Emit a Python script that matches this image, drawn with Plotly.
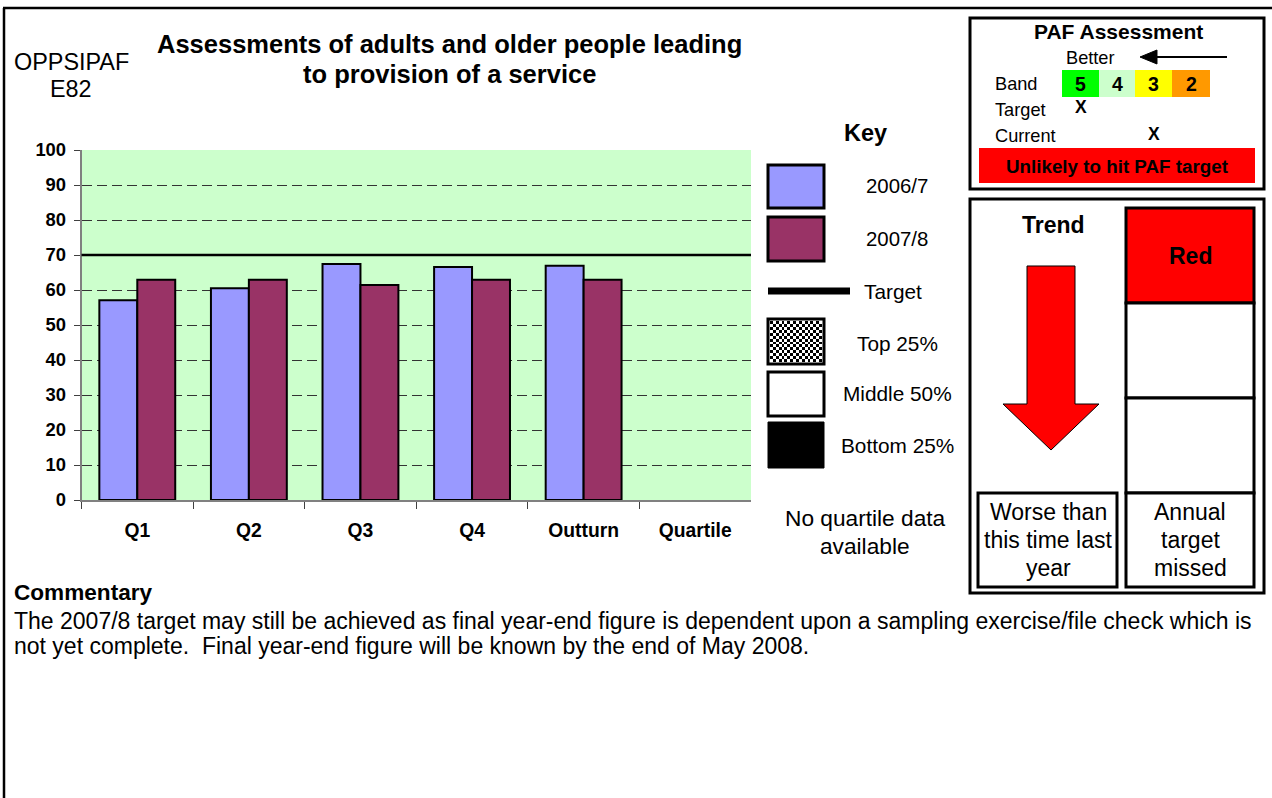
import plotly.graph_objects as go
import numpy as np

# ---------------- data ----------------
categories = ["Q1", "Q2", "Q3", "Q4", "Outturn", "Quartile"]
values_2006_7 = [57.1, 60.5, 67.4, 66.6, 66.9, None]
values_2007_8 = [62.9, 62.9, 61.4, 62.9, 62.9, None]
target_value = 70
y_tick_values = list(range(0, 101, 10))
series_names = ["2006/7", "2007/8"]
series_colors = ["#9999FF", "#993366"]
band_labels = ["5", "4", "3", "2"]
band_colors = ["#00FF00", "#CCFFCC", "#FFFF00", "#FF9900"]

W, H = 1272, 798
FONT = "Liberation Sans, Arial, sans-serif"


def px(x):
    return x / W


def py(y):
    return 1 - y / H


shapes = []
annotations = []


def rect(x0, y0, x1, y1, fill="rgba(0,0,0,0)", lw=3, lc="black", layer="above"):
    shapes.append(dict(type="rect", xref="paper", yref="paper",
                       x0=px(x0), x1=px(x1), y0=py(y1), y1=py(y0),
                       fillcolor=fill, line=dict(color=lc, width=lw), layer=layer))


def line(x0, y0, x1, y1, lw=2, lc="black"):
    shapes.append(dict(type="line", xref="paper", yref="paper",
                       x0=px(x0), x1=px(x1), y0=py(y0), y1=py(y1),
                       line=dict(color=lc, width=lw)))


def poly(points, fill, lw=1, lc="black"):
    d = "M " + " L ".join(f"{px(x):.5f},{py(y):.5f}" for x, y in points) + " Z"
    shapes.append(dict(type="path", xref="paper", yref="paper", path=d,
                       fillcolor=fill, line=dict(color=lc, width=lw)))


def text(t, x, y, size, bold=False, xanchor="center", color="black"):
    annotations.append(dict(text=t, x=px(x), y=py(y), xref="paper", yref="paper",
                            xanchor=xanchor, yanchor="middle", showarrow=False,
                            font=dict(family=FONT, size=size, color=color,
                                      weight="bold" if bold else "normal")))


fig = go.Figure()

# ---------------- main bar chart ----------------
for name, vals, col in zip(series_names, [values_2006_7, values_2007_8], series_colors):
    fig.add_trace(go.Bar(x=categories, y=vals, name=name,
                         marker=dict(color=col, line=dict(color="black", width=2)),
                         xaxis="x", yaxis="y"))

plot_x0, plot_x1 = 81.5, 751
plot_y0, plot_y1 = 150, 500

# target line
shapes.append(dict(type="line", xref="x domain", yref="y", x0=0, x1=1,
                   y0=target_value, y1=target_value,
                   line=dict(color="black", width=2.5), layer="above"))

# checker texture for "Top 25%" key swatch
nx, ny = 18, 14
checker = (np.add.outer(np.arange(ny), np.arange(nx)) % 2).astype(int)
fig.add_trace(go.Heatmap(z=checker, xaxis="x3", yaxis="y3", showscale=False,
                         colorscale=[[0, "white"], [1, "black"]], hoverinfo="skip"))

fig.update_layout(
    template="none",
    width=W, height=H, margin=dict(l=0, r=0, t=0, b=0, pad=0, autoexpand=False),
    paper_bgcolor="white", plot_bgcolor="#CCFFCC",
    showlegend=False, barmode="group", bargap=0.32, bargroupgap=0,
    font=dict(family=FONT, color="black"),
    xaxis=dict(domain=[px(plot_x0), px(plot_x1)], anchor="y", automargin=False,
               categoryorder="array", categoryarray=categories,
               showline=True, linecolor="#808080", linewidth=1.5,
               ticks="outside", tickson="boundaries", ticklen=7, tickcolor="#404040",
               tickwidth=1,
               tickfont=dict(family=FONT, size=19.3, weight="bold"),
               ticklabelstandoff=12, showgrid=False, zeroline=False, fixedrange=True),
    yaxis=dict(domain=[py(plot_y1), py(plot_y0)], anchor="x", automargin=False,
               range=[0, 100], tickvals=y_tick_values,
               showline=True, linecolor="#808080", linewidth=1.5,
               ticks="outside", ticklen=6, tickcolor="#404040", tickwidth=1,
               tickfont=dict(family=FONT, size=18.4, weight="bold"),
               ticklabelstandoff=4,
               showgrid=True, gridcolor="#333333", griddash="10px,5px", gridwidth=1,
               zeroline=False, fixedrange=True),
    xaxis3=dict(domain=[px(770), px(822)], anchor="y3", visible=False,
                automargin=False, fixedrange=True),
    yaxis3=dict(domain=[py(362), py(321)], anchor="x3", visible=False,
                automargin=False, fixedrange=True),
)

# ---------------- outer frame ----------------
line(3, 8, W, 8, lw=2.5)
line(4, 8, 4, H, lw=2.5)

# ---------------- titles ----------------
text("OPPSIPAF", 71, 62, 23.4)
text("E82", 71, 89, 23.4)
text("Assessments of adults and older people leading", 449, 44, 25.5, bold=True)
text("to provision of a service", 449, 74, 25.5, bold=True)

# ---------------- key ----------------
text("Key", 865, 133, 23.5, bold=True)
rect(768, 165, 824, 208, fill=series_colors[0])
text(series_names[0], 897, 186, 20.4)
rect(768, 217, 824, 261, fill=series_colors[1])
text(series_names[1], 897, 239, 20.4)
line(768, 291, 850, 291, lw=7)
text("Target", 893, 291, 20.8)
rect(768, 319, 824, 364, fill="rgba(0,0,0,0)")
text("Top 25%", 897, 343, 20.8)
rect(768, 372, 824, 416, fill="white")
text("Middle 50%", 897, 394, 20.8)
rect(768, 422, 824, 468, fill="black", lw=1)
text("Bottom 25%", 897, 445, 20.8)
text("No quartile data", 865, 518, 22.7)
text("available", 865, 546, 22.7)

# ---------------- PAF assessment box ----------------
rect(970, 18, 1264, 189, lw=3)
text("PAF Assessment", 1118, 31, 21, bold=True)
text("Better", 1090, 58, 18.2)
line(1227, 57, 1152, 57, lw=2)
poly([(1140, 57), (1157, 50), (1157, 64)], fill="black", lw=1)
text("Band", 993, 84, 18.2, xanchor="left")
band_x = [1062, 1099, 1135, 1172, 1210]
for i, (lab, col) in enumerate(zip(band_labels, band_colors)):
    rect(band_x[i], 70, band_x[i + 1], 97, fill=col, lw=0, lc=col)
    text(lab, (band_x[i] + band_x[i + 1]) / 2, 84, 19.5, bold=True)
text("Target", 993, 110, 18.2, xanchor="left")
text("X", 1081, 107, 17.5, bold=True)
text("Current", 993, 136, 18.2, xanchor="left")
text("X", 1154, 134, 17.5, bold=True)
rect(979, 148, 1255, 183, fill="#FF0000", lw=0, lc="#FF0000")
text("Unlikely to hit PAF target", 1117, 166, 18.8, bold=True)

# ---------------- trend box ----------------
rect(970, 199, 1264, 593, lw=3)
text("Trend", 1053, 225, 23, bold=True)
poly([(1027, 266), (1075, 266), (1075, 404), (1099, 404), (1051, 450),
      (1003, 404), (1027, 404)], fill="#FF0000", lw=1)
rect(1126, 208, 1254, 303, fill="#FF0000")
text("Red", 1190, 256, 23, bold=True)
rect(1126, 303, 1254, 398, fill="white")
rect(1126, 398, 1254, 493, fill="white")
rect(1126, 493, 1254, 587, fill="white")
rect(978, 493, 1117, 587, fill="white")
for i, t in enumerate(["Worse than", "this time last", "year"]):
    text(t, 1048, 512 + 28 * i, 23)
for i, t in enumerate(["Annual", "target", "missed"]):
    text(t, 1190, 512 + 28 * i, 23)

# ---------------- commentary ----------------
text("Commentary", 12, 592, 22.6, bold=True, xanchor="left")
text("The 2007/8 target may still be achieved as final year-end figure is dependent upon a sampling exercise/file check which is",
     12, 621, 23, xanchor="left")
text("not yet complete.  Final year-end figure will be known by the end of May 2008.",
     12, 646, 23, xanchor="left")

fig.update_layout(shapes=shapes, annotations=annotations)
fig.write_html("out.html", config={"displayModeBar": False},
               post_script="document.body.style.margin='0';")
